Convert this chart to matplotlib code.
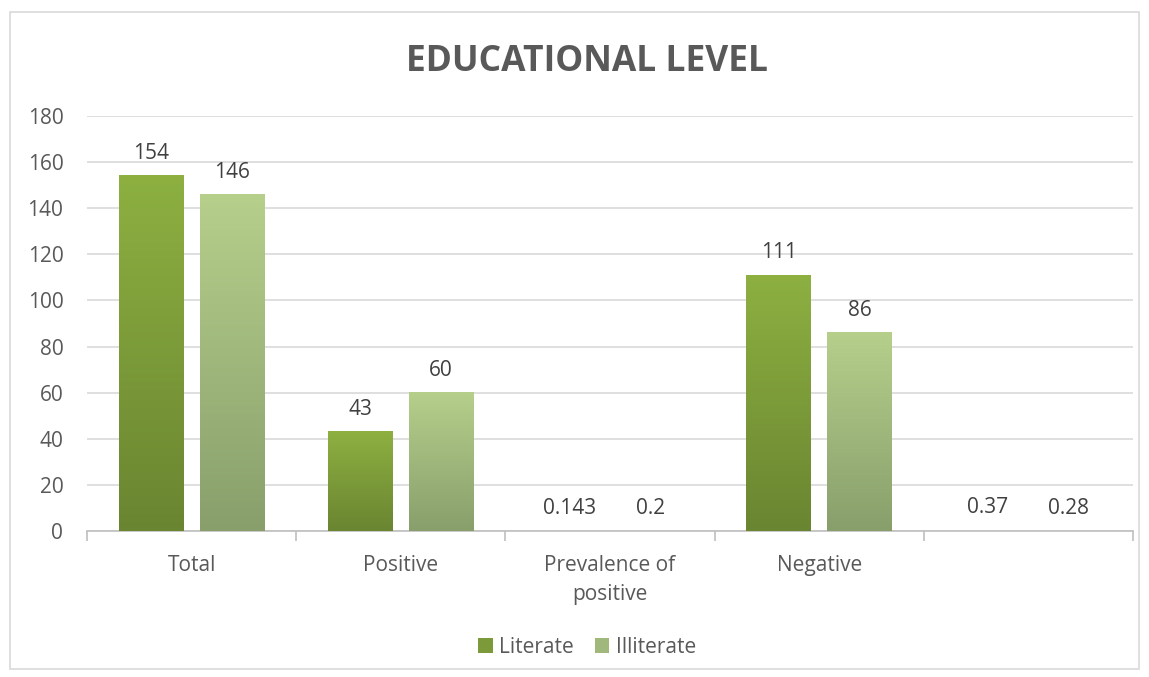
import matplotlib
matplotlib.use("Agg")
import matplotlib.pyplot as plt
import numpy as np
from matplotlib.colors import LinearSegmentedColormap
from matplotlib.patches import Patch, Rectangle

plt.rcParams['font.family'] = ['Open Sans', 'DejaVu Sans']

categories = ['Total', 'Positive', 'Prevalence of\npositive', 'Negative', '']
literate = [154, 43, 0.143, 111, 0.37]
illiterate = [146, 60, 0.2, 86, 0.28]
literate_labels = ['154', '43', '0.143', '111', '0.37']
illiterate_labels = ['146', '60', '0.2', '86', '0.28']

grey = '#595959'
lit_cmap = LinearSegmentedColormap.from_list('lit', ['#6a8531', '#8db041'])
ill_cmap = LinearSegmentedColormap.from_list('ill', ['#889f6c', '#b6cf8b'])

fig = plt.figure(figsize=(11.49, 6.77), dpi=100)
ax = fig.add_axes([0.0757, 0.2157, 0.9103, 0.613])

x = np.arange(len(categories))
width = 0.31
offset = 0.193
grad = np.linspace(0, 1, 256).reshape(-1, 1)

def gradient_bars(xs, vals, cmap, labels):
    bars = ax.bar(xs, vals, width, color='none', zorder=3)
    for b, lab in zip(bars, labels):
        x0, y0 = b.get_x(), b.get_y()
        w, h = b.get_width(), b.get_height()
        if h > 0.5:
            ax.imshow(grad, cmap=cmap, origin='lower', aspect='auto',
                      extent=[x0, x0 + w, y0, y0 + h], zorder=3)
        ax.annotate(lab, (x0 + w / 2, h), xytext=(0, 8.5), textcoords='offset points',
                    ha='center', va='bottom', fontsize=15, color='#404040')

gradient_bars(x - offset, literate, lit_cmap, literate_labels)
gradient_bars(x + offset, illiterate, ill_cmap, illiterate_labels)

ax.set_xlim(-0.5, len(categories) - 0.5)
ax.set_ylim(0, 180)
ax.set_yticks(np.arange(0, 181, 20))
ax.grid(axis='y', color='#d9d9d9', linewidth=1.2, zorder=0)
ax.set_axisbelow(True)

ax.set_xticks(x)
ax.set_xticklabels(categories, fontsize=15, color=grey, linespacing=1.5)
ax.set_xticks(np.arange(-0.5, len(categories)), minor=True)
ax.tick_params(axis='x', which='major', length=0, pad=17)
ax.tick_params(axis='x', which='minor', length=7, color='#bfbfbf', width=1.2)
ax.tick_params(axis='y', length=0, labelsize=15, labelcolor=grey, pad=17)

for s in ['top', 'right', 'left']:
    ax.spines[s].set_visible(False)
ax.spines['bottom'].set_color('#bfbfbf')
ax.spines['bottom'].set_linewidth(1.2)

fig.text(0.511, 0.909, 'EDUCATIONAL LEVEL', ha='center', va='center',
         fontsize=25.5, fontweight='bold', color=grey)

handles = [Patch(facecolor='#7c9a3a', label='Literate'),
           Patch(facecolor='#a0b87c', label='Illiterate')]
fig.legend(handles=handles, loc='center', bbox_to_anchor=(0.511, 0.044), ncol=2,
           frameon=False, fontsize=15, labelcolor=grey, handlelength=0.7,
           handleheight=0.7, handletextpad=0.3, columnspacing=1.0)

fig.add_artist(Rectangle((0.009, 0.012), 0.982, 0.97, transform=fig.transFigure,
                         fill=False, edgecolor='#d9d9d9', linewidth=1.2))

fig.savefig('out.png', dpi=100)
